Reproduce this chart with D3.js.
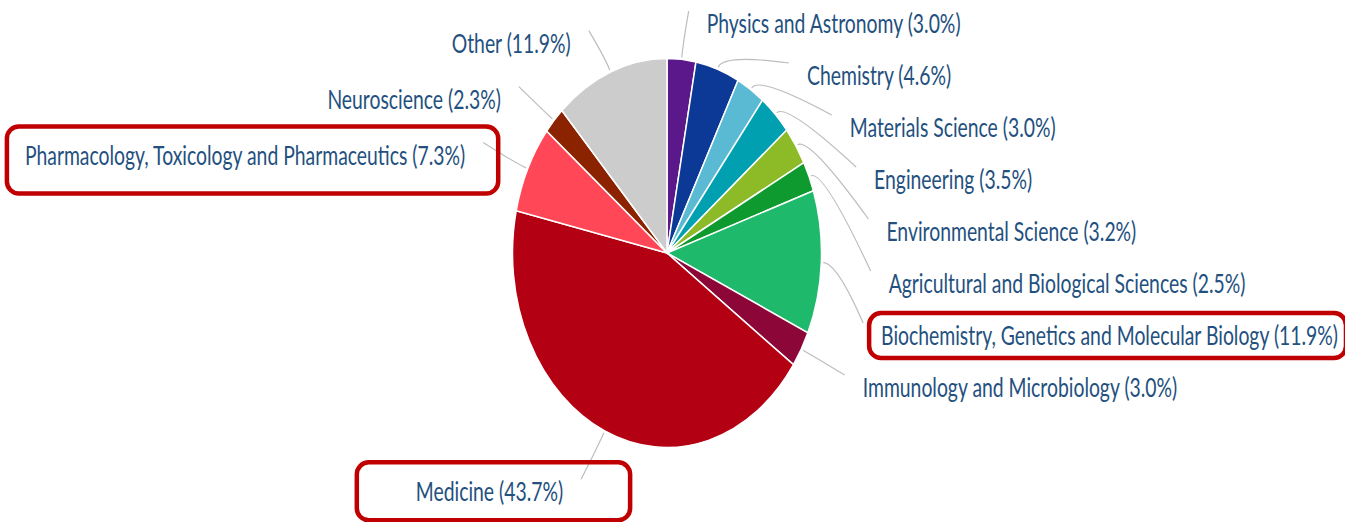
<!DOCTYPE html>
<html>
<head>
<meta charset="utf-8">
<script src="https://cdn.jsdelivr.net/npm/d3@7"></script>
<style>
  html, body { margin: 0; padding: 0; background: #ffffff; }
  svg { display: block; }
</style>
</head>
<body>
<svg id="chart" width="1345" height="522"></svg>
<script>
// ---- data ----
const categories = [
  "Physics and Astronomy",
  "Chemistry",
  "Materials Science",
  "Engineering",
  "Environmental Science",
  "Agricultural and Biological Sciences",
  "Biochemistry, Genetics and Molecular Biology",
  "Immunology and Microbiology",
  "Medicine",
  "Pharmacology, Toxicology and Pharmaceutics",
  "Neuroscience",
  "Other"
];
const shares = [3.0, 4.6, 3.0, 3.5, 3.2, 2.5, 11.9, 3.0, 43.7, 7.3, 2.3, 11.9];
const sliceColors = [
  "#5a188a", "#0c3896", "#5ab9d3", "#00a0b0", "#8cbb27", "#0e9a2e",
  "#1fb96b", "#8c0638", "#b30012", "#ff4757", "#8b2300", "#cccccc"
];
const highlighted = [
  "Pharmacology, Toxicology and Pharmaceutics",
  "Biochemistry, Genetics and Molecular Biology",
  "Medicine"
];

// ---- layout / style ----
const cx = 667, cy = 253, rx = 154.5, ry = 194.5;
const sx = rx / ry;
const textScale = 0.717;
const fontSize = 27;
const textColor = "#23507e";
// box padding around label text: left/right from text extent, top/bottom from baseline
const boxPad = {
  "Pharmacology, Toxicology and Pharmaceutics": {l: 18, r: 33, t: 38, b: 29},
  "Biochemistry, Genetics and Molecular Biology": {l: 12, r: 8, t: 32, b: 13},
  "Medicine": {l: 59, r: 67, t: 39, b: 19}
};

const svg = d3.select("#chart");
const data = categories.map((c, i) => ({name: c, value: shares[i], color: sliceColors[i]}));

const pie = d3.pie().sort(null).value(d => d.value).startAngle(0).endAngle(2 * Math.PI);
const arcs = pie(data);
const arc = d3.arc().innerRadius(0).outerRadius(ry);

const gPie = svg.append("g").attr("transform", `translate(${cx},${cy}) scale(${sx},1)`);
gPie.selectAll("path").data(arcs).join("path")
  .attr("d", arc)
  .attr("fill", d => d.data.color)
  .attr("stroke", "#ffffff")
  .attr("stroke-width", 1.5)
  .attr("vector-effect", "non-scaling-stroke");

// label placement
arcs.forEach(a => {
  a.mid = (a.startAngle + a.endAngle) / 2;
  a.right = Math.sin(a.mid) >= 0;
  const c = Math.cos(a.mid);
  const R = c > 0 ? (a.right ? 230 : 225) : 261.5;
  a.base = cy - c * R + 9;
});
function distribute(list, gap) {
  list.sort((a, b) => a.base - b.base);
  for (let i = 1; i < list.length; i++) {
    if (list[i].base < list[i - 1].base + gap) list[i].base = list[i - 1].base + gap;
  }
}
distribute(arcs.filter(a => a.right), 52);
distribute(arcs.filter(a => !a.right), 52);

arcs.forEach(a => {
  const R = a.right ? 222 : 227;
  const t = Math.max(-1, Math.min(1, (a.base - 279) / 250));
  const dx = R * Math.sqrt(1 - t * t);
  a.tx = a.right ? cx + dx : cx - dx;
  a.ex = a.right ? a.tx - 18 : a.tx + 18;
  a.ey = a.base - 22;
});

// connectors
const pt = (ang, off) => [cx + Math.sin(ang) * (rx + off), cy - Math.cos(ang) * (ry + off)];
svg.append("g").selectAll("path").data(arcs).join("path")
  .attr("d", a => {
    const s = pt(a.mid, 2), c = pt(a.mid, 16);
    return `M${s[0]},${s[1]} Q${c[0]},${c[1]} ${a.ex},${a.ey}`;
  })
  .attr("fill", "none")
  .attr("stroke", "#bdbdbd")
  .attr("stroke-width", 1.2);

// labels
const gLab = svg.append("g");
const labels = gLab.selectAll("text").data(arcs).join("text")
  .attr("transform", a => `translate(${a.tx},${a.base}) scale(${textScale},1)`)
  .attr("text-anchor", a => a.right ? "start" : "end")
  .attr("font-family", "Lato, 'Open Sans', sans-serif")
  .attr("font-size", fontSize)
  .attr("fill", textColor)
  .text(a => `${a.data.name} (${a.data.value.toFixed(1)}%)`);

// highlight boxes
labels.each(function(a) {
  if (!highlighted.includes(a.data.name)) return;
  const w = this.getComputedTextLength() * textScale;
  const p = boxPad[a.data.name];
  const x0 = a.right ? a.tx : a.tx - w;
  svg.append("rect")
    .attr("x", x0 - p.l)
    .attr("y", a.base - p.t)
    .attr("width", w + p.l + p.r)
    .attr("height", p.t + p.b)
    .attr("rx", 12)
    .attr("fill", "none")
    .attr("stroke", "#c00000")
    .attr("stroke-width", 4.5);
});
</script>
</body>
</html>
